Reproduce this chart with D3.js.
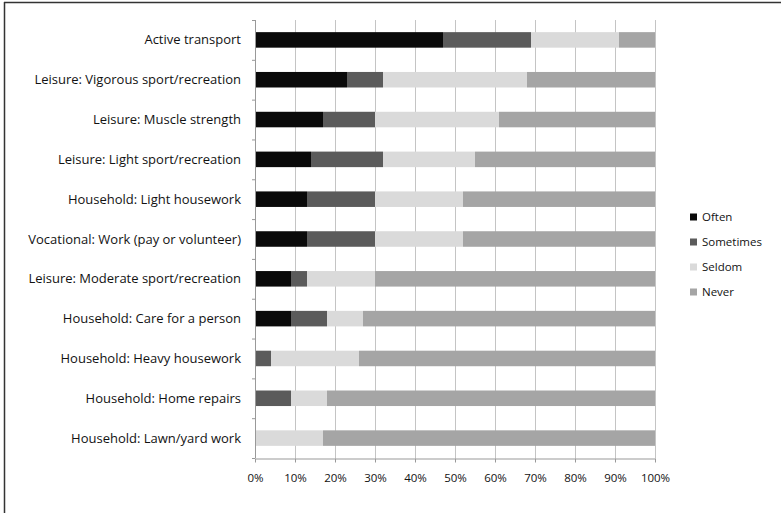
<!DOCTYPE html>
<html>
<head>
<meta charset="utf-8">
<script src="https://cdn.jsdelivr.net/npm/d3@7/dist/d3.min.js"></script>
<style>
  html, body { margin: 0; padding: 0; background: #fff; }
  svg { display: block; }
  text { font-family: "Open Sans", Lato, sans-serif; fill: #121212; }
</style>
</head>
<body>
<svg id="chart" width="781" height="513"></svg>
<script>
// Activity categories, top to bottom
const categories = [
  "Active transport",
  "Leisure: Vigorous sport/recreation",
  "Leisure: Muscle strength",
  "Leisure: Light sport/recreation",
  "Household: Light housework",
  "Vocational: Work (pay or volunteer)",
  "Leisure: Moderate sport/recreation",
  "Household: Care for a person",
  "Household: Heavy housework",
  "Household: Home repairs",
  "Household: Lawn/yard work"
];

// Frequency shares (%) per category
const often     = [47, 23, 17, 14, 13, 13,  9,  9,  0,  0,  0];
const sometimes = [22,  9, 13, 18, 17, 17,  4,  9,  4,  9,  0];
const seldom    = [22, 36, 31, 23, 22, 22, 17,  9, 22,  9, 17];
const never     = [ 9, 32, 39, 45, 48, 48, 70, 73, 74, 82, 83];

const seriesNames = ["Often", "Sometimes", "Seldom", "Never"];
const seriesColors = ["#0a0a0a", "#5b5b5b", "#dadada", "#a5a5a5"];
const tickValues = [0, 10, 20, 30, 40, 50, 60, 70, 80, 90, 100];

const rows = categories.map((c, i) => ({
  category: c,
  Often: often[i], Sometimes: sometimes[i], Seldom: seldom[i], Never: never[i]
}));

const svg = d3.select("#chart");
const W = 781, H = 513;

// outer frame (left and top edges)
svg.append("line").attr("x1", 4.5).attr("x2", 4.5).attr("y1", 2).attr("y2", H)
  .attr("stroke", "#333").attr("stroke-width", 1.5);
svg.append("line").attr("x1", 4).attr("x2", W).attr("y1", 2.5).attr("y2", 2.5)
  .attr("stroke", "#333").attr("stroke-width", 1.5);

const margin = { left: 255, right: 126, top: 20, bottom: 55 };
const x = d3.scaleLinear().domain([0, 100]).range([margin.left, W - margin.right]);
const y = d3.scaleBand().domain(categories).range([margin.top, H - margin.bottom])
  .paddingInner(0.61).paddingOuter(0.305);

// vertical gridlines
svg.append("g").selectAll("line").data(tickValues.slice(1)).join("line")
  .attr("x1", d => x(d) + 0.5).attr("x2", d => x(d) + 0.5)
  .attr("y1", margin.top).attr("y2", H - margin.bottom)
  .attr("stroke", "#c4c4c4").attr("stroke-width", 1);

// stacked bars
const stack = d3.stack().keys(seriesNames)(rows);
const color = d3.scaleOrdinal().domain(seriesNames).range(seriesColors);
svg.append("g").selectAll("g").data(stack).join("g")
  .attr("fill", d => color(d.key))
  .selectAll("rect").data(d => d).join("rect")
  .attr("x", d => x(d[0]))
  .attr("y", d => y(d.data.category))
  .attr("width", d => x(d[1]) - x(d[0]))
  .attr("height", y.bandwidth());

// x axis
const xAxis = svg.append("g")
  .attr("transform", `translate(0,${H - margin.bottom + 0.5})`)
  .call(d3.axisBottom(x).tickValues(tickValues).tickFormat(d => d + "%").tickSize(4).tickSizeOuter(0));
xAxis.select(".domain").attr("stroke", "#999");
xAxis.selectAll(".tick line").attr("stroke", "#999");
xAxis.selectAll(".tick text").attr("font-size", 11.5).attr("y", 19).attr("dy", "0.35em")
  .style("font-family", "'Open Sans', Lato, sans-serif").attr("fill", "#121212");

// y axis: line with ticks at band boundaries
const yg = svg.append("g");
yg.append("line").attr("x1", margin.left + 0.5).attr("x2", margin.left + 0.5)
  .attr("y1", margin.top).attr("y2", H - margin.bottom).attr("stroke", "#999");
const step = y.step();
yg.selectAll("line.tk").data(d3.range(categories.length + 1)).join("line")
  .attr("class", "tk")
  .attr("x1", margin.left - 3).attr("x2", margin.left)
  .attr("y1", i => margin.top + i * step + 0.5).attr("y2", i => margin.top + i * step + 0.5)
  .attr("stroke", "#999");
yg.selectAll("text").data(categories).join("text")
  .attr("x", margin.left - 14)
  .attr("y", d => y(d) + y.bandwidth() / 2)
  .attr("dy", "0.35em")
  .attr("text-anchor", "end")
  .attr("font-size", 13)
  .text(d => d);

// legend
const legend = svg.append("g").attr("transform", "translate(690,217)");
const li = legend.selectAll("g").data(seriesNames).join("g")
  .attr("transform", (d, i) => `translate(0,${i * 25})`);
li.append("rect").attr("x", 0).attr("y", -3.5).attr("width", 7).attr("height", 7)
  .attr("fill", d => color(d));
li.append("text").attr("x", 12).attr("y", 0).attr("dy", "0.35em")
  .attr("font-size", 11.5).text(d => d);
</script>
</body>
</html>
